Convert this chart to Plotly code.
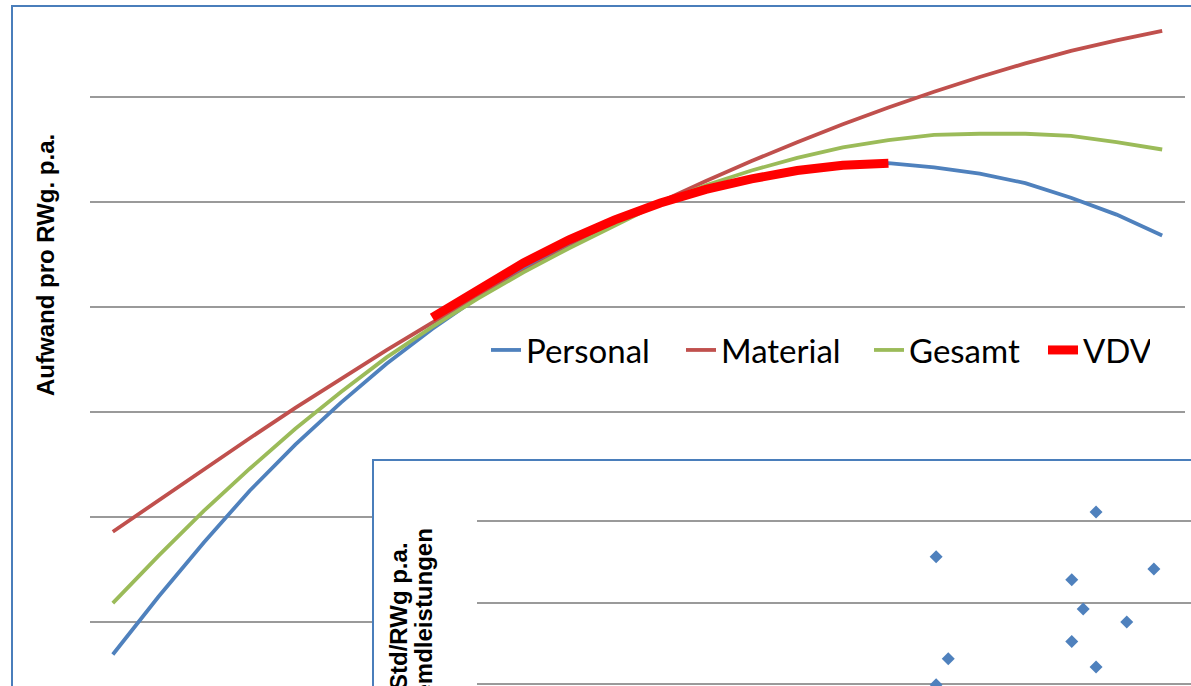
import plotly.graph_objects as go

W, H = 1191, 686

# Cost curves per vehicle (Aufwand pro RWg. p.a.), one value per size class
categories = list(range(1, 25))
personal = [69, 124, 176, 225, 269, 309, 346, 379, 409, 436, 460, 481,
            498, 512, 523, 530, 535, 537, 533, 527, 518, 504, 488, 468]
material = [186, 216, 246, 275, 304, 332, 359, 385, 410, 434, 457, 479,
            500, 520, 539, 557, 574, 590, 605, 619, 632, 644, 654, 663]
gesamt = [118, 163, 206, 246, 284, 319, 352, 381, 408, 433, 456, 478,
          499, 516, 530, 542, 552, 559, 564, 565, 565, 563, 557, 550]
vdv_categories = list(range(8, 19))
vdv = [390, 417, 442, 464, 483, 499, 512, 522, 530, 535, 537]

# Inset scatter: Std/RWg p.a. Fremdleistungen
inset_x = [8.67, 6.43, 9.48, 8.33, 8.49, 9.10, 8.33, 6.60, 8.67, 6.43]
inset_y = [3.11, 2.56, 2.41, 2.28, 1.92, 1.76, 1.52, 1.31, 1.21, 0.99]

series_names = ["Personal", "Material", "Gesamt", "VDV"]
series_colors = ["#4F81BD", "#C0504D", "#9BBB59", "#FF0000"]
legend_widths = [150, 143, 129, 62]

GRID = "#9A9A9A"
BORDER = "#4A7EBB"


def px_x(p):
    return p / W


def px_y(p):
    return 1 - p / H


fig = go.Figure()

main_series = [(categories, personal), (categories, material),
               (categories, gesamt), (vdv_categories, vdv)]
for (xs, ys), name, color, lw in zip(main_series, series_names,
                                     series_colors, legend_widths):
    fig.add_trace(go.Scatter(
        x=xs, y=ys, name=name, mode="lines",
        line=dict(color=color, width=9 if name == "VDV" else 3.8),
        legendwidth=lw, xaxis="x", yaxis="y",
    ))

# white backing panel for the inset chart
fig.add_trace(go.Scatter(x=[], y=[], xaxis="x2", yaxis="y2",
                         showlegend=False, hoverinfo="skip"))

fig.add_trace(go.Scatter(
    x=inset_x, y=inset_y, mode="markers", showlegend=False,
    marker=dict(symbol="diamond", size=10, color="#4F81BD"),
    xaxis="x3", yaxis="y3",
))

hidden = dict(showgrid=False, zeroline=False, showticklabels=False,
              showline=False, ticks="")

fig.update_layout(
    width=W, height=H,
    margin=dict(l=0, r=0, t=0, b=0),
    paper_bgcolor="white", plot_bgcolor="white",
    xaxis=dict(domain=[px_x(90), px_x(1185)], range=[0.5, 24.5], **hidden),
    yaxis=dict(domain=[0, 1], range=[39.05, 692.38], tick0=0, dtick=100,
               showgrid=True, gridcolor=GRID, gridwidth=1.5,
               zeroline=False, showticklabels=False, ticks=""),
    xaxis2=dict(domain=[px_x(373), 1], range=[0, 1], anchor="y2", **hidden),
    yaxis2=dict(domain=[0, px_y(460)], range=[0, 1], anchor="x2", **hidden),
    xaxis3=dict(domain=[px_x(477), 1], range=[0, 10], anchor="y3", **hidden),
    yaxis3=dict(domain=[0, px_y(470)], range=[0.9755, 3.6258], anchor="x3",
                tick0=0, dtick=1, showgrid=True, gridcolor=GRID, gridwidth=1.5,
                zeroline=False, showticklabels=False, ticks=""),
    showlegend=True,
    legend=dict(orientation="h", x=px_x(486), xanchor="left",
                y=px_y(350), yanchor="middle",
                font=dict(family="Lato", size=33, color="black"),
                bgcolor="rgba(0,0,0,0)", itemwidth=30),
    shapes=[
        dict(type="rect", xref="paper", yref="paper",
             x0=px_x(12), x1=1.05, y0=-0.05, y1=px_y(6),
             line=dict(color=BORDER, width=2), fillcolor="rgba(0,0,0,0)",
             layer="above"),
        dict(type="rect", xref="paper", yref="paper",
             x0=px_x(373), x1=1.05, y0=-0.05, y1=px_y(460),
             line=dict(color=BORDER, width=2), fillcolor="rgba(0,0,0,0)",
             layer="above"),
    ],
    annotations=[
        dict(text="<b>Aufwand pro RWg. p.a.</b>", textangle=-90,
             xref="paper", yref="paper", x=px_x(46), y=px_y(265),
             xanchor="center", yanchor="middle", showarrow=False,
             font=dict(family="Liberation Sans, Arial", size=24, color="black")),
        dict(text="<b>Std/RWg p.a.</b>", textangle=-90,
             xref="paper", yref="paper", x=px_x(398), y=px_y(540),
             xanchor="center", yanchor="top", showarrow=False,
             font=dict(family="Liberation Sans, Arial", size=24, color="black")),
        dict(text="<b>Fremdleistungen</b>", textangle=-90,
             xref="paper", yref="paper", x=px_x(423), y=px_y(527),
             xanchor="center", yanchor="top", showarrow=False,
             font=dict(family="Liberation Sans, Arial", size=24, color="black")),
    ],
)

fig.write_html("out.html")
